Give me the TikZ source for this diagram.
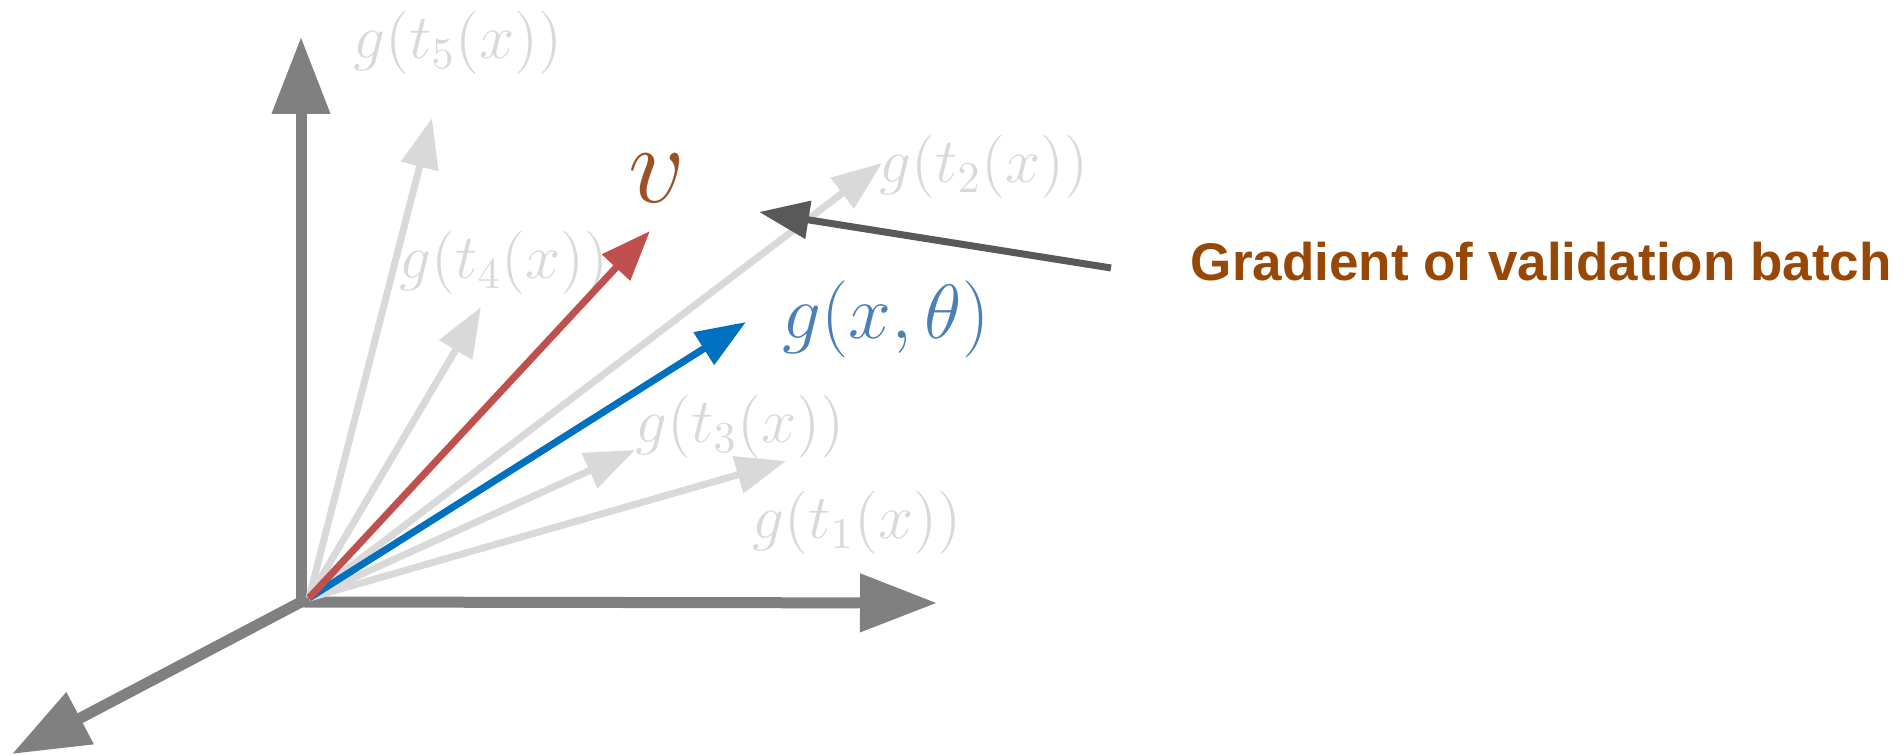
\documentclass[tikz,border=0pt]{standalone}
\usepackage{fix-cm}
\usepackage{fontspec}
\newfontfamily\gradfont{Liberation Sans}
\usetikzlibrary{arrows.meta}
\definecolor{cAxis}{HTML}{808080}
\definecolor{cLight}{HTML}{D9D9D9}
\definecolor{cRed}{HTML}{C0504D}
\definecolor{cBlue}{HTML}{0070C0}
\definecolor{cDark}{HTML}{595959}
\definecolor{cV}{HTML}{9C5128}
\definecolor{cGx}{HTML}{4A80B8}
\definecolor{cGrad}{HTML}{974806}

\begin{document}
\begin{tikzpicture}[x=0.25pt, y=-0.25pt,
    axis/.style={draw=cAxis, line width=2.75pt, line cap=square,
                 -{Triangle[length=19.25pt, width=14pt]}},
    vec/.style={line width=1.75pt, -{Triangle[length=12.5pt, width=9.25pt]}},
    glabel/.style={text=cLight, inner sep=0pt, font=\fontsize{15.75}{18}\selectfont}]
    \useasboundingbox (0,0) rectangle (1904,756);
    % axes
    \coordinate (O) at (301,602);
    \coordinate (yTip) at (301,37);
    \coordinate (xTip) at (937,603);
    \coordinate (zTip) at (12,754);
    \draw[axis] (O) -- (yTip);
    \draw[axis] (O) -- (xTip);
    \draw[axis] (O) -- (zTip);
    % augmented gradients
    \coordinate (src) at (309,598);
    \coordinate (t5) at (432,118);
    \coordinate (t4) at (481,307);
    \coordinate (t2) at (882,163);
    \coordinate (t3) at (635,450);
    \coordinate (t1) at (786,461);
    \draw[vec, cLight] (src) -- (t5);
    \draw[vec, cLight] (src) -- (t4);
    \draw[vec, cLight] (src) -- (t2);
    \draw[vec, cLight] (src) -- (t3);
    \draw[vec, cLight] (src) -- (t1);
    \node[glabel] (l5) at (458,43) {$g(t_5(x))$};
    \node[glabel] (l4) at (504,263) {$g(t_4(x))$};
    \node[glabel] (l2) at (984,167) {$g(t_2(x))$};
    \node[glabel] (l3) at (740,427) {$g(t_3(x))$};
    \node[glabel] (l1) at (857,523) {$g(t_1(x))$};
    % sample and validation gradients
    \coordinate (gTip) at (746,322);
    \coordinate (vTip) at (650,231);
    \draw[vec, cBlue] (src) -- (gTip);
    \draw[vec, cRed] (src) -- (vTip);
    \node[text=cV, inner sep=0pt, font=\fontsize{28}{32}\selectfont] (lv) at (657,178) {$v$};
    \node[text=cGx, inner sep=0pt, font=\fontsize{19.25}{22}\selectfont] (lg) at (886,319) {$g(x,\theta)$};
    % pointer to the validation batch
    \node[anchor=base west, inner sep=0pt, text=cGrad,
          font=\gradfont\bfseries\fontsize{13.25}{16}\selectfont] (grad) at (1190,281) {Gradient of validation batch};
    \coordinate (pTail) at (1111,268);
    \coordinate (pTip) at (759,212);
    \draw[vec, cDark] (pTail) -- (pTip);
\end{tikzpicture}
\end{document}
